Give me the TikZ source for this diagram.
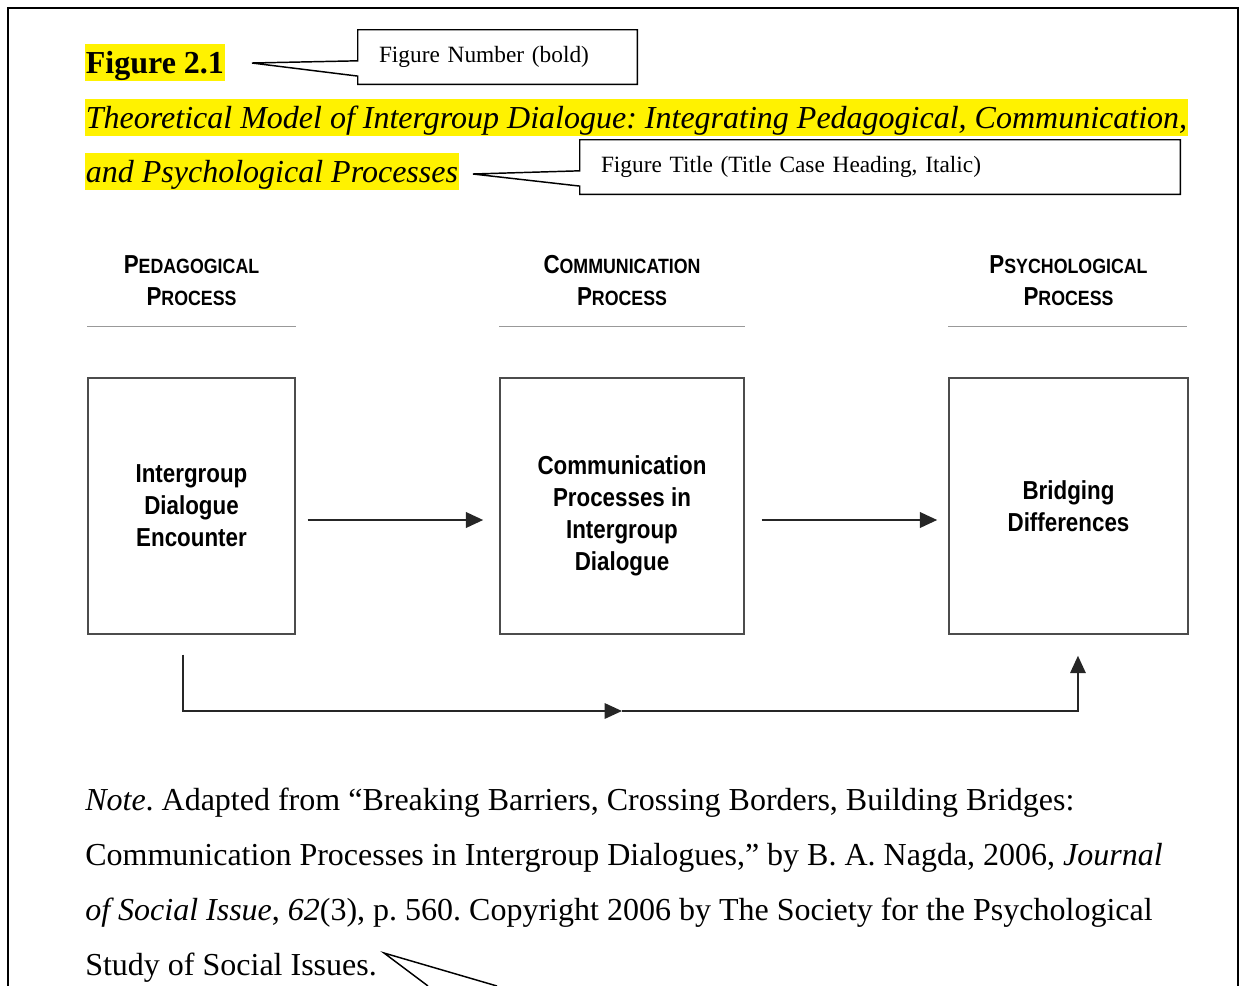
\documentclass[tikz,border=0pt]{standalone}
\usepackage{fontspec}
\setmainfont{Liberation Serif}
\newfontfamily\diagfont[FakeStretch=0.86]{Liberation Sans Bold}
\usetikzlibrary{arrows.meta, positioning, calc}
\frenchspacing

% big first letter, smaller rest (fake small caps)
\newcommand{\capsc}[2]{{\fontsize{19.5}{24}\selectfont #1}{\fontsize{15.5}{24}\selectfont #2}}

\tikzset{
  hilite/.style={fill=yellow, anchor=base west, inner xsep=0.5pt, inner ysep=0pt, text height=22pt, text depth=6pt},
  callbox/.style={inner xsep=15.75pt, inner ysep=0pt, minimum height=40.5pt, align=left, font=\fontsize{17.5}{21}\selectfont},
  callout/.style={draw, line width=1.1pt},
  stagehead/.style={align=center, font=\diagfont\fontsize{18}{24}\selectfont},
  stagebox/.style={draw=black!70, line width=1.1pt, minimum height=192pt, align=center, font=\diagfont\fontsize{19.5}{24}\selectfont},
  headrule/.style={draw=black!40, line width=1.1pt},
  flow/.style={draw=black!85, line width=2pt, -{Triangle[length=13pt,width=11.5pt]}},
  notetext/.style={anchor=base west, inner sep=0pt, font=\fontsize{24}{28}\selectfont},
}

\begin{document}
\begin{tikzpicture}[x=0.75pt, y=-0.75pt]
  \useasboundingbox (0,0) rectangle (1240,986);
  % page frame
  \draw[line width=1.5pt] (8,986) -- (8,8) -- (1238,8) -- (1238,986);

  % Figure number and title
  \node[hilite, font=\bfseries\fontsize{24}{28}\selectfont] (fignum) at (85,73) {Figure 2.1};
  \node[hilite, font=\itshape\fontsize{24}{28}\selectfont] (title1) at (85,128)
    {Theoretical Model of Intergroup Dialogue: Integrating Pedagogical, Communication,};
  \node[hilite, font=\itshape\fontsize{24}{28}\selectfont] (title2) at (85,182)
    {and Psychological Processes};

  % callouts
  \node[callbox, text width=177.75pt] (numbox) at (497.5,57) {Figure Number (bold)};
  \coordinate (numtip) at (252,63);
  \draw[callout] (numbox.north west) -- (numbox.north east) -- (numbox.south east)
    -- (numbox.south west) -- ($(numbox.north west)!0.85!(numbox.south west)$)
    -- (numtip) -- ($(numbox.north west)!0.57!(numbox.south west)$) -- cycle;

  \node[callbox, text width=418.5pt] (titlebox) at (880,167) {Figure Title (Title Case Heading, Italic)};
  \coordinate (titletip) at (473,174);
  \draw[callout] (titlebox.north west) -- (titlebox.north east) -- (titlebox.south east)
    -- (titlebox.south west) -- ($(titlebox.north west)!0.85!(titlebox.south west)$)
    -- (titletip) -- ($(titlebox.north west)!0.57!(titlebox.south west)$) -- cycle;

  % Stage boxes
  \node[stagebox, minimum width=155.25pt] (pedbox) at (191.5,506) {Intergroup\\Dialogue\\Encounter};
  \node[stagebox, minimum width=183pt, text height=101.5pt, text depth=5pt] (combox) at (622,506)
    {Communication\\Processes in\\Intergroup\\Dialogue};
  \node[stagebox, minimum width=179.25pt] (psybox) at (1068.5,506) {Bridging\\Differences};

  % Stage headings
  \node[stagehead] (pedhead) at (191.5,281) {\capsc{P}{EDAGOGICAL}\\\capsc{P}{ROCESS}};
  \node[stagehead] (comhead) at (622,281) {\capsc{C}{OMMUNICATION}\\\capsc{P}{ROCESS}};
  \node[stagehead] (psyhead) at (1068.5,281) {\capsc{P}{SYCHOLOGICAL}\\\capsc{P}{ROCESS}};
  \draw[headrule] ([yshift=38.25pt]pedbox.north west) -- ([yshift=38.25pt]pedbox.north east);
  \draw[headrule] ([yshift=38.25pt]combox.north west) -- ([yshift=38.25pt]combox.north east);
  \draw[headrule] ([yshift=38.25pt]psybox.north west) -- ([xshift=-1.5pt,yshift=38.25pt]psybox.north east);

  % Arrows between stages
  \draw[flow, shorten <=9pt, shorten >=12pt] ([yshift=-10.5pt]pedbox.east) -- ([yshift=-10.5pt]combox.west);
  \draw[flow, shorten <=12.75pt, shorten >=8.25pt] ([yshift=-10.5pt]combox.east) -- ([yshift=-10.5pt]psybox.west);

  % Direct path along the bottom
  \coordinate (loopstart) at ([xshift=-6.4pt,yshift=-15pt]pedbox.south);
  \coordinate (loopend) at ([xshift=7.1pt,yshift=-15.75pt]psybox.south);
  \coordinate (loopmid) at (combox.south |- 0,711);
  \draw[flow, line width=1.6pt] (loopstart) |- (loopmid);
  \draw[flow, line width=1.6pt] (loopmid) -| (loopend);

  % Note
  \node[notetext] (note1) at (85,810) {\textit{Note}. Adapted from “Breaking Barriers, Crossing Borders, Building Bridges:};
  \node[notetext] (note2) at (85,865) {Communication Processes in Intergroup Dialogues,” by B. A. Nagda, 2006, \textit{Journal}};
  \node[notetext] (note3) at (85,920) {\textit{of Social Issue}, \textit{62}(3), p. 560. Copyright 2006 by The Society for the Psychological};
  \node[notetext] (note4) at (85,975) {Study of Social Issues.};

  % callout below the note
  \coordinate (notetip) at (384,953);
  \coordinate (noteleg1) at (428,986);
  \coordinate (noteleg2) at (497,986);
  \draw[callout] (noteleg1) -- (notetip) -- (noteleg2);
\end{tikzpicture}
\end{document}
